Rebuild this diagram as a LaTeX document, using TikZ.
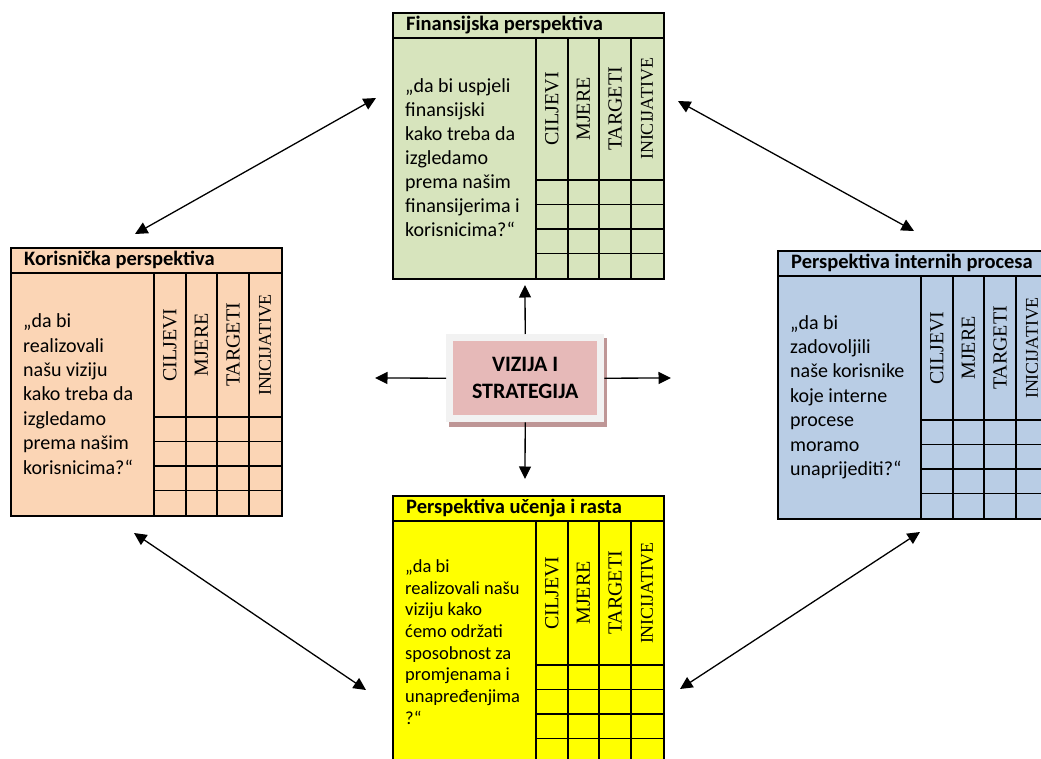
\documentclass[tikz,border=0pt]{standalone}
\usepackage{fontspec}
\setmainfont{Carlito}
\newfontfamily\timesfont{Liberation Serif}
\usetikzlibrary{arrows.meta}

\definecolor{finzelena}{RGB}{215,228,189}
\definecolor{korbreskva}{RGB}{251,213,181}
\definecolor{intplava}{RGB}{185,205,229}
\definecolor{ucenjezuta}{RGB}{255,255,0}
\definecolor{vizroza}{RGB}{230,185,184}
\definecolor{vizokvir}{RGB}{242,242,242}
\definecolor{vizsjena}{RGB}{190,150,150}

\tikzset{
	okvir/.style={draw, line width=1.6pt, anchor=north west, inner sep=0pt, minimum width=271pt},
	mreza/.style={line width=1.6pt},
	naslov/.style={anchor=west, inner sep=0pt, font=\bfseries\fontsize{20.5}{20.5}\selectfont},
	pitanje/.style={anchor=west, align=left, inner sep=0pt},
	kolona/.style={rotate=90, inner sep=0pt, font=\timesfont\fontsize{20}{20}\selectfont},
	strelica/.style={{Triangle[length=12.5pt,width=12pt]}-{Triangle[length=12.5pt,width=12pt]}, line width=1.3pt},
	strelica1/.style={-{Triangle[length=12.5pt,width=12pt]}, line width=1.3pt}
}

% #1 ime, #2 x, #3 y, #4 boja, #5 visina, #6 naslov, #7 pitanje, #8 velicina, #9 prored
\newcommand{\perspektiva}[9]{%
	\begin{scope}[shift={(#2,#3)}]
		\node[okvir, fill=#4, minimum height=#5pt] (#1) at (0,0) {};
		\draw[mreza] (0,26) -- (271,26);
		\draw[mreza] (144,26) -- (144,#5);
		\foreach \k in {176,207,239}
			\draw[mreza] (\k,26) -- (\k,#5);
		\foreach \r in {0,1,2,3}
			\draw[mreza] (144,{#5-98+\r*24.5}) -- (271,{#5-98+\r*24.5});
		\node[naslov] (#1-naslov) at (14,13) {#6};
		\node[pitanje, font=\fontsize{#8}{#9}\selectfont] (#1-tekst) at (13,{(26+#5)/2}) {#7};
		\node[kolona] (#1-cilj) at (160,{(#5-72)/2}) {CILJEVI};
		\node[kolona] (#1-mjere) at (191.5,{(#5-72)/2}) {MJERE};
		\node[kolona] (#1-target) at (223,{(#5-72)/2}) {TARGETI};
		\node[kolona, font=\timesfont\fontsize{18}{18}\selectfont] (#1-inic) at (255,{(#5-72)/2}) {INICIJATIVE};
	\end{scope}}

\begin{document}
\begin{tikzpicture}[x=1pt, y=-1pt]
	
	\clip (0,0) rectangle (1041,759);
	
	\perspektiva{fin}{392}{12}{finzelena}{266}{Finansijska perspektiva}{„da bi uspjeli\\finansijski\\kako treba da\\izgledamo\\prema našim\\finansijerima i\\korisnicima?“}{20}{24}
	
	\perspektiva{kor}{10}{247}{korbreskva}{268}{Korisnička perspektiva}{„da bi\\realizovali\\našu viziju\\kako treba da\\izgledamo\\prema našim\\korisnicima?“}{20}{24.4}
	
	\perspektiva{int}{777}{250}{intplava}{268}{Perspektiva internih procesa}{„da bi\\zadovoljili\\naše korisnike\\koje interne\\procese\\moramo\\unaprijediti?“}{20}{24.4}
	
	\perspektiva{uc}{392}{495}{ucenjezuta}{268}{Perspektiva učenja i rasta}{„da bi\\realizovali našu\\viziju kako\\ćemo održati\\sposobnost za\\promjenama i\\unapređenjima\\?“}{18.5}{21.7}
	
	\node[fill=vizsjena, inner sep=0pt, minimum width=158pt, minimum height=89pt, anchor=north west] (sjena) at (449,338) {};
	
	\node[fill=vizokvir, inner sep=0pt, minimum width=158pt, minimum height=88pt, anchor=north west] (vizija) at (446,334) {};
	
	\node[fill=vizroza, inner sep=0pt, minimum width=144pt, minimum height=74pt, align=center, font=\bfseries\fontsize{22}{27}\selectfont] (jezgro) at (vizija.center) {VIZIJA I\\STRATEGIJA};
	
	\coordinate (gore) at (525,285);
	\coordinate (dolje) at (525,479);
	\coordinate (lijevo) at (375,378);
	\coordinate (desno) at (671,378);
	
	\coordinate (fin-l) at (376,98);
	\coordinate (kor-g) at (135,234);
	\coordinate (fin-d) at (678,101);
	\coordinate (int-g) at (914,231);
	\coordinate (kor-d) at (134,533);
	\coordinate (uc-l) at (366,690);
	\coordinate (int-d) at (920,532);
	\coordinate (uc-d) at (680,689);
	
	\draw[strelica1] (vizija.north) -- (gore);
	\draw[strelica1] (vizija.south) -- (dolje);
	\draw[strelica1] (vizija.west) -- (lijevo);
	\draw[strelica1] (vizija.east) -- (desno);
	
	\draw[strelica] (fin-l) -- (kor-g);
	\draw[strelica] (fin-d) -- (int-g);
	\draw[strelica] (kor-d) -- (uc-l);
	\draw[strelica] (int-d) -- (uc-d);
	
\end{tikzpicture}
\end{document}
